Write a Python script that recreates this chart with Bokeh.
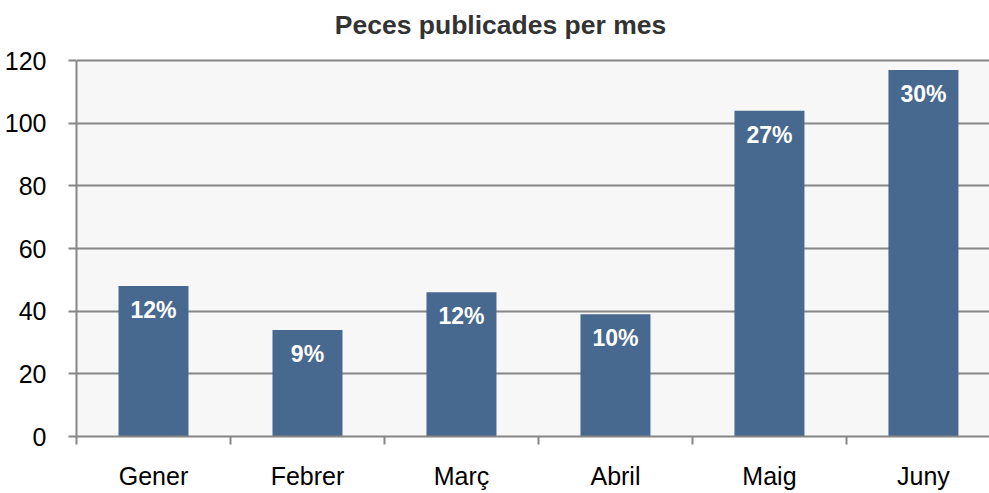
from bokeh.plotting import figure
from bokeh.models import Range1d, FixedTicker, ColumnDataSource, Label, BoxAnnotation
from bokeh.core.properties import value
from bokeh.embed import file_html
from bokeh.resources import INLINE

months = ["Gener", "Febrer", "Març", "Abril", "Maig", "Juny"]
pieces = [48, 34, 46, 39, 104, 117]
shares = ["12%", "9%", "12%", "10%", "27%", "30%"]
y_ticks = [0, 20, 40, 60, 80, 100, 120]
title_text = "Peces publicades per mes"

FONT = "Liberation Sans"
GRAY = "#868686"
BAR = "#48698F"

y_max = y_ticks[-1]
# frame spans the whole height above the x axis; the title sits in the top 60 px
y_top = y_max * 436 / 376

xpos = list(range(len(months)))
src = ColumnDataSource(dict(x=xpos, y=pieces, label=shares))

p = figure(width=989, height=493, output_backend="svg", toolbar_location=None,
           x_range=Range1d(-0.5, 5.429), y_range=Range1d(0, y_top),
           min_border_left=76, min_border_right=0, min_border_top=0,
           min_border_bottom=57)

p.background_fill_color = "white"
p.border_fill_color = "white"
p.outline_line_color = None
p.title.visible = False

plot_area = BoxAnnotation(bottom=0, top=y_max, fill_color="#F7F7F7", fill_alpha=1,
                          line_color=None, level="image")
p.add_layout(plot_area)

title = Label(x=424, y=412, x_units="screen", y_units="screen", text=title_text,
              text_align="center", text_baseline="middle", text_font=FONT,
              text_font_size="26.5px", text_font_style="bold", text_color="#333333")
p.add_layout(title)

p.vbar(x="x", top="y", width=0.4545, source=src, fill_color=BAR, line_color=None)
p.text(x="x", y="y", text="label", source=src, text_align="center",
       text_baseline="middle", y_offset=24, text_color="white",
       text_font=value(FONT), text_font_size="23px", text_font_style="bold")

p.xgrid.visible = False
p.ygrid.ticker = FixedTicker(ticks=y_ticks)
p.ygrid.grid_line_color = GRAY
p.ygrid.grid_line_width = 2

yax = p.yaxis[0]
yax.ticker = FixedTicker(ticks=y_ticks)
yax.bounds = (0, y_max)
yax.axis_line_color = GRAY
yax.axis_line_width = 2
yax.major_tick_line_color = GRAY
yax.major_tick_line_width = 2
yax.major_tick_out = 8
yax.major_tick_in = 0
yax.minor_tick_line_color = None
yax.major_label_standoff = 22
yax.major_label_text_font = FONT
yax.major_label_text_font_size = "25px"
yax.major_label_text_color = "black"

xax = p.xaxis[0]
xax.ticker = FixedTicker(ticks=xpos, minor_ticks=[i - 0.5 for i in range(len(months) + 1)])
xax.major_label_overrides = {i: m for i, m in zip(xpos, months)}
xax.axis_line_color = GRAY
xax.axis_line_width = 2
xax.major_tick_line_color = None
xax.major_tick_out = 0
xax.major_tick_in = 0
xax.minor_tick_line_color = GRAY
xax.minor_tick_line_width = 2
xax.minor_tick_out = 8
xax.minor_tick_in = 0
xax.major_label_standoff = 17
xax.major_label_text_font = FONT
xax.major_label_text_font_size = "25px"
xax.major_label_text_color = "black"

open("out.html", "w").write(file_html(p, INLINE))
